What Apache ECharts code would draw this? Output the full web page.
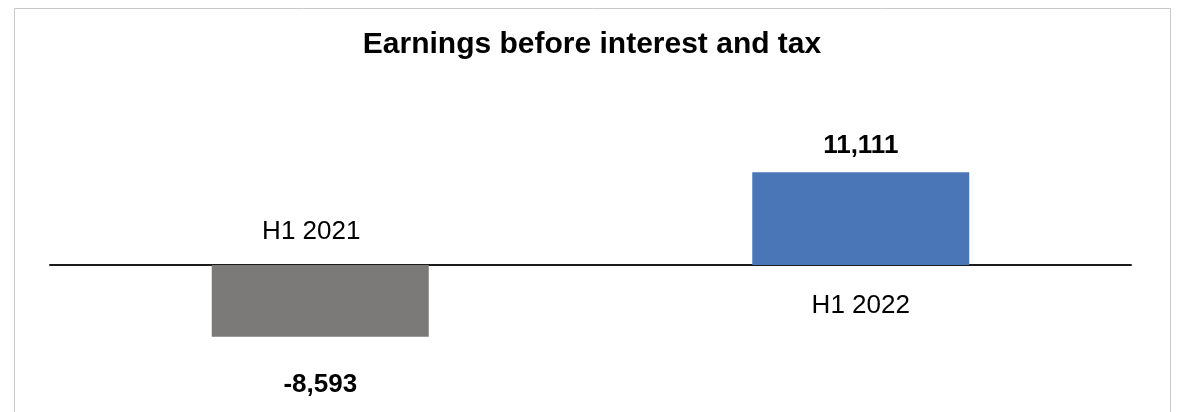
<!DOCTYPE html>
<html>
<head>
<meta charset="utf-8">
<script src="https://cdn.jsdelivr.net/npm/echarts@6/dist/echarts.min.js"></script>
<style>
  html, body { margin: 0; padding: 0; background: #fff; }
  #chart { width: 1178px; height: 412px; }
</style>
</head>
<body>
<div id="chart"></div>
<script>
// EBIT by half-year period
const categories = ['H1 2021', 'H1 2022'];
const ebitValues = [-8593, 11111];
const barColors = ['#7b7a78', '#4a76b8'];
const titleText = 'Earnings before interest and tax';

const fontFamily = "'Liberation Sans', Arial, sans-serif";

const fmt = v => v.toLocaleString('en-US');

const chart = echarts.init(document.getElementById('chart'), null, { renderer: 'canvas' });

chart.setOption({
  animation: false,
  backgroundColor: '#ffffff',
  graphic: [{
    type: 'rect',
    shape: { x: 14.5, y: 8.5, width: 1156, height: 440 },
    style: { fill: 'none', stroke: '#c9c9c9', lineWidth: 1 },
    silent: true,
    z: 0
  }],
  title: {
    text: titleText,
    left: 587,
    textAlign: 'center',
    top: 25,
    textStyle: { fontFamily: fontFamily, fontWeight: 'bold', fontSize: 30, color: '#000' }
  },
  grid: { left: 50, right: 47, top: 148, height: 234 },
  xAxis: {
    type: 'category',
    data: categories,
    axisLine: { show: true, onZero: true, lineStyle: { color: '#1a1a1a', width: 2 } },
    axisTick: { show: false },
    axisLabel: { show: false },
    splitLine: { show: false }
  },
  yAxis: {
    type: 'value',
    min: -14000,
    max: 14000,
    show: false,
    splitLine: { show: false }
  },
  series: [
    {
      type: 'bar',
      barWidth: 217,
      data: ebitValues.map((v, i) => ({
        value: v,
        itemStyle: { color: barColors[i] },
        label: {
          show: true,
          position: v < 0 ? 'bottom' : 'top',
          distance: v < 0 ? 35 : 13,
          formatter: () => fmt(v),
          fontFamily: fontFamily,
          fontWeight: 'bold',
          fontSize: 26,
          color: '#000'
        }
      }))
    },
    {
      // category names placed on the opposite side of the zero line from each bar
      type: 'scatter',
      symbolSize: 0,
      silent: true,
      itemStyle: { color: '#000', opacity: 1 },
      label: {
        show: true,
        formatter: '{b}',
        fontFamily: fontFamily,
        fontSize: 26,
        color: '#000',
        opacity: 1
      },
      data: ebitValues.map((v, i) => ({
        value: 0,
        label: {
          position: v < 0 ? 'top' : 'bottom',
          distance: v < 0 ? 20 : 28,
          offset: v < 0 ? [-9, 0] : [0, 0],
          color: '#000'
        }
      }))
    }
  ]
});
</script>
</body>
</html>
